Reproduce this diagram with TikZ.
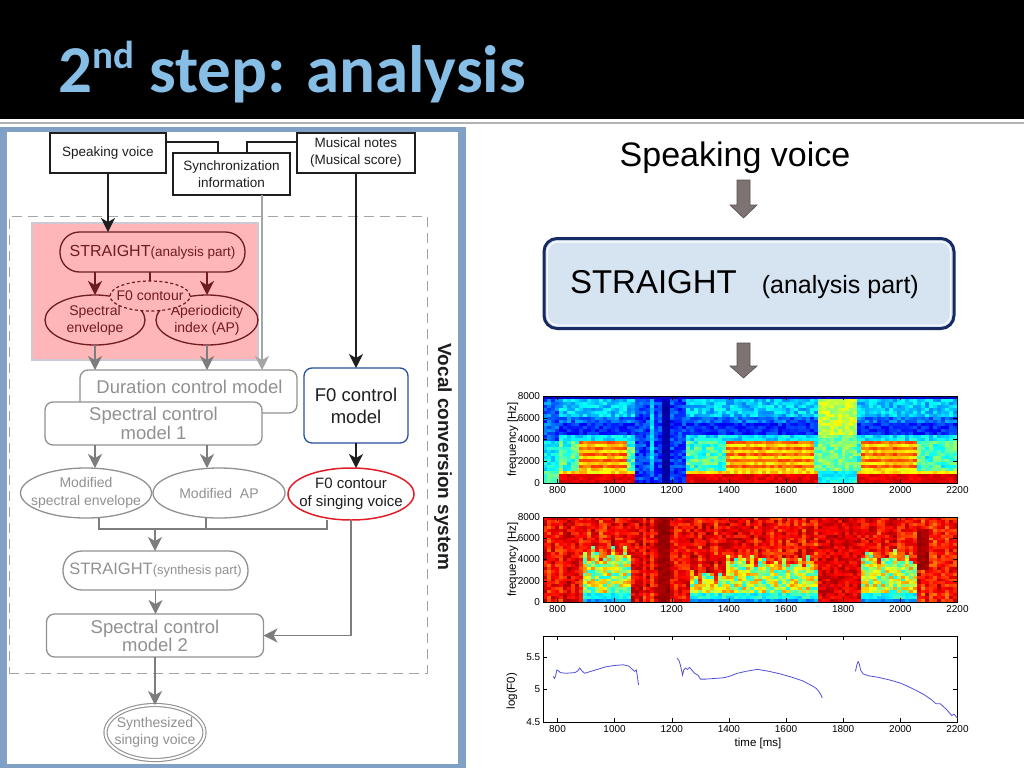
\documentclass[tikz,border=0pt]{standalone}
\usepackage{fontspec}
\setmainfont{Liberation Sans}
\newfontfamily\titlefont{Carlito}
\usetikzlibrary{shapes.geometric,arrows.meta,calc}
\definecolor{panelblue}{RGB}{128,160,198}
\definecolor{titleblue}{RGB}{135,190,230}
\definecolor{darkred}{RGB}{110,28,32}
\definecolor{pinkfill}{RGB}{255,182,184}
\definecolor{pinkedge}{RGB}{205,200,212}
\definecolor{mgray}{RGB}{145,145,145}
\definecolor{tgray}{RGB}{145,145,145}
\definecolor{agray}{RGB}{125,125,125}
\definecolor{dgray}{RGB}{165,165,165}
\definecolor{f0blue}{RGB}{40,80,160}
\definecolor{f0red}{RGB}{225,30,40}
\definecolor{navy}{RGB}{22,42,100}
\definecolor{boxblue}{RGB}{214,227,241}
\definecolor{barrow}{RGB}{125,115,115}
\definecolor{curveblue}{RGB}{80,80,215}
\definecolor{ink}{RGB}{30,30,30}

\newcommand\fs[2]{\fontsize{#1}{#2}\selectfont}

% jet colour map
\newcommand\jetcolor[1]{%
  \pgfmathsetmacro\jr{max(0,min(1,1.5-abs(4*#1-3)))}%
  \pgfmathsetmacro\jg{max(0,min(1,1.5-abs(4*#1-2)))}%
  \pgfmathsetmacro\jb{max(0,min(1,1.5-abs(4*#1-1)))}%
  \definecolor{cellc}{rgb}{\jr,\jg,\jb}%
}
% spectrogram (upper)
\newcommand\voiced[2]{%
  \ifdim\fq pt<700pt \pgfmathsetmacro\val{0.86+0.07*\rn}%
  \else\ifdim\fq pt<1100pt \pgfmathsetmacro\val{0.58+0.14*\rn}%
  \else\ifdim\fq pt<3850pt
     \ifdim\tm pt>#1pt \ifdim\tm pt<#2pt
        \ifodd\jrow\relax \pgfmathsetmacro\val{0.73+0.1*\rn}\else\pgfmathsetmacro\val{0.6+0.12*\rn}\fi
     \else \pgfmathsetmacro\val{0.34+0.2*\rn}\fi
     \else \pgfmathsetmacro\val{0.34+0.2*\rn}\fi
  \else\ifdim\fq pt<4400pt \pgfmathsetmacro\val{0.28+0.14*\rn}%
  \else\ifdim\fq pt<5400pt \pgfmathsetmacro\val{0.1+0.12*\rn}%
  \else\ifdim\fq pt<6200pt \pgfmathsetmacro\val{0.16+0.14*\rn}%
  \else \pgfmathsetmacro\val{0.25+0.15*\rn}%
  \fi\fi\fi\fi\fi\fi
}
\newcommand\unvoicedb{%
  \ifdim\tm pt>1165pt \ifdim\tm pt<1194pt \pgfmathsetmacro\val{0.02+0.04*\rn}\else\pgfmathsetmacro\val{0.1+0.16*\rn}\fi\else\pgfmathsetmacro\val{0.1+0.16*\rn}\fi}
\newcommand\unvoiced{%
  \ifdim\tm pt>1125pt \ifdim\tm pt<1141pt \ifdim\fq pt>1000pt \pgfmathsetmacro\val{0.3+0.08*\rn}\else\unvoicedb\fi\else\unvoicedb\fi\else\unvoicedb\fi}
\newcommand\fric{%
  \ifdim\fq pt<1000pt \pgfmathsetmacro\val{0.32+0.1*\rn}\else
  \ifdim\fq pt<4500pt \pgfmathsetmacro\val{0.4+0.16*\rn}\else\pgfmathsetmacro\val{0.5+0.14*\rn}\fi\fi}
\newcommand\specAval{%
  \pgfmathsetmacro\rn{rnd}%
  \def\val{0.2}%
  \ifdim\fq pt>7780pt \pgfmathsetmacro\val{0.05+0.05*\rn}%
  \else
   \ifdim\tm pt<800pt
     \ifdim\fq pt<1000pt \pgfmathsetmacro\val{0.4+0.1*\rn}\else
     \ifdim\fq pt<3900pt \pgfmathsetmacro\val{0.3+0.12*\rn}\else
     \pgfmathsetmacro\val{0.14+0.16*\rn}\fi\fi
   \else\ifdim\tm pt<1068pt \voiced{880}{1045}%
   \else\ifdim\tm pt<1255pt \unvoiced
   \else\ifdim\tm pt<1715pt \voiced{1390}{1700}%
   \else\ifdim\tm pt<1852pt \fric
   \else \voiced{1870}{2060}%
   \fi\fi\fi\fi\fi
  \fi
}
% aperiodicity map (lower)
\newcommand\lowband[1]{%
  \pgfmathsetmacro\thr{#1-700+1400*\cn}%
  \ifdim\fq pt<\thr pt \pgfmathsetmacro\val{0.38+0.36*\rn}\fi
  \ifdim\fq pt<900pt \pgfmathsetmacro\val{0.32+0.14*\rn}\fi
  \ifdim\fq pt<350pt \pgfmathsetmacro\val{0.22+0.1*\rn}\fi
}
\newcommand\specBval{%
  \pgfmathsetmacro\rn{rnd}%
  \pgfmathsetmacro\val{0.74+0.1*\cn+0.15*\rn}%
  \ifdim\tm pt>885pt \ifdim\tm pt<1055pt \lowband{4600}\fi\fi
  \ifdim\tm pt>1270pt \ifdim\tm pt<1390pt \lowband{2200}\fi\fi
  \ifdim\tm pt>1390pt \ifdim\tm pt<1710pt \lowband{3800}\fi\fi
  \ifdim\tm pt>1862pt \ifdim\tm pt<2060pt \lowband{4200}\fi\fi
  \ifdim\tm pt>1712pt \ifdim\tm pt<1860pt \pgfmathsetmacro\val{0.84+0.12*\rn}\fi\fi
  \ifdim\tm pt>1160pt \ifdim\tm pt<1192pt \pgfmathsetmacro\val{0.95+0.04*\rn}\fi\fi
  \ifdim\tm pt>2060pt \ifdim\tm pt<2100pt \ifdim\fq pt>3000pt \ifdim\fq pt<7000pt \pgfmathsetmacro\val{0.94+0.05*\rn}\fi\fi\fi\fi
}
% axes of a spectrogram: #1 top, #2 bottom, #3 name
\newcommand\specaxes[3]{%
  \draw[line width=0.6pt] (543,#1) rectangle (957,#2);
  \foreach \tk in {800,1000,...,2200}{
    \draw[line width=0.5pt] ({328.9+0.2857*\tk},#2) -- ++(0,-4) ({328.9+0.2857*\tk},#1) -- ++(0,4);
    \node[anchor=north, font=\fs{10}{12}] (#3x\tk) at ({328.9+0.2857*\tk},{#2+3.5}) {\tk};
  }
  \foreach \ff [count=\k from 0] in {0,2000,...,8000}{
    \pgfmathsetmacro\yy{#2-(#2-#1)*\k/4}
    \draw[line width=0.5pt] (543,\yy) -- ++(4,0) (957,\yy) -- ++(-4,0);
    \node[anchor=east, font=\fs{10}{12}] (#3y\k) at (540,\yy) {\ff};
  }
  \node[rotate=90, font=\fs{11.5}{13}] (#3lab) at (513,{(#1+#2)/2}) {frequency [Hz]};
}

\tikzset{
  every node/.style={inner sep=0pt, outer sep=0pt},
  rectbox/.style={draw=ink, line width=1.3pt, fill=white, align=center, text=ink, font=\fs{13.5}{17}},
  graybox/.style={draw=mgray, line width=1.3pt, rounded corners=8pt, fill=white, align=center, text=tgray, font=\fs{18.5}{17}},
  ell/.style={ellipse, inner xsep=-40pt, inner ysep=-12pt, align=center},
  grayell/.style={ell, draw=mgray, line width=1.3pt, fill=white, text=tgray, font=\fs{14}{18}},
  redell/.style={ell, draw=darkred, line width=1.3pt, fill=pinkfill, text=darkred, font=\fs{14}{17}},
  blk/.style={-{Stealth[length=14pt,width=14pt,inset=4pt]}, line width=1.4pt, draw=ink},
  gar/.style={-{Stealth[length=14pt,width=14pt,inset=4pt]}, line width=1.4pt, draw=agray},
  rar/.style={-{Stealth[length=14pt,width=14pt,inset=4pt]}, line width=1.4pt, draw=darkred},
  gline/.style={line width=1.4pt, draw=agray},
  barrowst/.style={fill=barrow, draw=barrow!70!black, line width=0.6pt},
}

\begin{document}
\begin{tikzpicture}[x=1pt,y=-1pt]
\useasboundingbox (0,0) rectangle (1024,768);
\fill[white] (0,0) rectangle (1024,768);
% header
\fill[black] (0,0) rectangle (1024,119);
\fill[black!30] (0,121.5) rectangle (1024,124);
\node[anchor=base west, text=titleblue, font=\titlefont\bfseries\fs{67}{70}] (title) at (58.5,92)
  {2\raisebox{24pt}{\fs{39}{40}nd} step: analysis};

% left panel
\fill[panelblue] (0,127) rectangle (466,768);
\fill[white] (7,132) rectangle (458,764);

\node[draw=dgray, dashed, dash pattern=on 10pt off 6pt, line width=1pt,
      minimum width=418, minimum height=457] (vcs) at (218,444.5) {};
\node[fill=pinkfill, draw=pinkedge, line width=2.5pt, minimum width=226, minimum height=137] (pink) at (145,291.5) {};

% input boxes
\node[rectbox, minimum width=116, minimum height=40] (sv) at (108,153) {Speaking voice};
\node[rectbox, minimum width=117, minimum height=42] (sync) at (231.5,174) {Synchronization\\information};
\node[rectbox, minimum width=118, minimum height=40] (mus) at (356,153) {Musical notes\\(Musical score)};
\coordinate (j1) at (218,142);
\coordinate (j2) at (247,142);
\draw[line width=1.3pt, draw=ink] (sv.east |- j1) -| (sync.north -| j1);
\draw[line width=1.3pt, draw=ink] (mus.west |- j2) -| (sync.north -| j2);

% analysis part
\node[draw=darkred, line width=1.3pt, fill=pinkfill, rounded corners=19.5pt, minimum width=185, minimum height=40,
      text=darkred, font=\fs{16}{18}] (stA) at (152.5,252) {STRAIGHT{\fs{13.5}{15}(analysis part)}};
\node[redell, minimum width=100, minimum height=50] (spec) at (95,320) {Spectral\\envelope};
\node[redell, minimum width=102, minimum height=50] (ap) at (207,320) {Aperiodicity\\index (AP)};
\node[ell, draw=darkred, dashed, dash pattern=on 3pt off 2.5pt, line width=1.2pt, fill=pinkfill,
      minimum width=80, minimum height=30, text=darkred, font=\fs{14}{16}] (f0c) at (150,296) {F0 contour};
\draw[rar] (stA.south -| spec.north) -- (spec.north);
\draw[rar] (stA.south -| ap.north) -- (ap.north);
\draw[line width=1.2pt, draw=darkred] (stA.south -| f0c.north) -- (f0c.north);
\draw[blk] (sv.south) -- (sv.south |- stA.north);

% control models
\node[graybox, minimum width=217, minimum height=43] (dur) at (188.5,391.5) {};
\node[text=tgray, font=\fs{18.5}{20}] (durt) at (189.5,387) {Duration control model};
\node[graybox, minimum width=217, minimum height=43] (scm1) at (153.5,423.5) {Spectral control\\model 1};
\node[draw=f0blue, line width=1.3pt, rounded corners=8pt, fill=white, minimum width=104, minimum height=75,
      align=center, text=ink, font=\fs{18.5}{22}] (f0m) at (356,405.5) {F0 control\\model};
\coordinate (sx) at (262,195);
\draw[gar] (spec.south) -- (spec.south |- dur.north);
\draw[gar] (ap.south) -- (ap.south |- dur.north);
\draw[gar, draw=dgray] (sync.south -| sx) -- (sx |- dur.north);
\draw[blk] (mus.south) -- (f0m.north);

% modified parameters
\node[grayell, minimum width=131, minimum height=50] (mse) at (86,493) {Modified\\spectral envelope};
\node[grayell, minimum width=132, minimum height=50] (map) at (219,493) {Modified\ \ AP};
\node[ell, draw=f0red, line width=1.5pt, fill=white, minimum width=126, minimum height=52,
      text=ink, font=\fs{15}{18}] (f0s) at (351,494) {F0 contour\\of singing voice};
\draw[gar] (scm1.south -| spec.south) -- (spec.south |- mse.north);
\draw[gar] (scm1.south -| ap.south) -- (ap.south |- map.north);
\draw[blk] (f0m.south) -- (f0m.south |- f0s.north);

% synthesis
\coordinate (m1) at (99,529);
\coordinate (m2) at (206,529);
\coordinate (m3) at (327,529);
\coordinate (mc) at (155,529);
\node[draw=mgray, line width=1.3pt, fill=white, rounded corners=19pt, minimum width=185, minimum height=39,
      text=tgray, font=\fs{16.5}{18}] (stS) at (155.5,570.5) {STRAIGHT{\fs{13}{15}(synthesis part)}};
\node[graybox, minimum width=217, minimum height=43] (scm2) at (155,635.5) {Spectral control\\model 2};
\node[ell, draw=mgray, double=white, double distance=2pt, line width=1.1pt, fill=white,
      minimum width=99, minimum height=55, text=tgray, font=\fs{14}{17}] (syn) at (155,732.5)
      {Synthesized\\singing voice};
\draw[gline] (mse.south -| m1) -- (m1) -- (m3) -- (f0s.south -| m3);
\draw[gline] (map.south -| m2) -- (m2);
\draw[gar] (mc) -- (stS.north -| mc);
\draw[gar] (stS.south) -- (stS.south |- scm2.north);
\draw[gar] (f0s.south) |- (scm2.east);
\draw[gar] (scm2.south) -- (syn.north);

\node[rotate=-90, font=\bfseries\fs{19}{21}, text=ink] (vcsl) at (443,457) {Vocal conversion system};

% right side: flow
\node[anchor=base, font=\fs{34}{36}] (sv2) at (735,166) {Speaking voice};
\filldraw[barrowst] (737,180) -- (750,180) -- (750,205) -- (757,205) -- (743.5,218) -- (730,205) -- (737,205) -- cycle;
\node[draw=navy, line width=3pt, fill=boxblue, rounded corners=13pt, minimum width=410, minimum height=90] (stR) at (749,283.5) {};
\draw[white, line width=1.2pt, rounded corners=10pt] ($(stR.north west)+(3.4,3.4)$) rectangle ($(stR.south east)+(-3.4,-3.4)$);
\node[anchor=base west, font=\fs{33}{36}] (stRt) at (570,293) {STRAIGHT\hspace{25pt}{\fs{25}{27}(analysis part)}};
\filldraw[barrowst] (737,343) -- (750,343) -- (750,366) -- (757,366) -- (743.5,378) -- (730,366) -- (737,366) -- cycle;

% spectrogram (upper)
\pgfmathsetseed{4711}
\begin{scope}
\clip (543,396) rectangle (957,483);
\foreach \i in {0,...,103}{
  \pgfmathsetmacro\tm{750+(\i+0.5)*13.94}
  \foreach \jrow in {0,...,28}{
    \pgfmathsetmacro\fq{8000-(\jrow+0.5)*275.86}
    \specAval
    \jetcolor{\val}
    \fill[cellc] ({543+\i*3.98},{396+\jrow*3}) rectangle ++(4.3,3.3);
  }
}
\end{scope}
\specaxes{396}{483}{sa}

% aperiodicity map (lower)
\begin{scope}
\clip (543,517) rectangle (957,602);
\foreach \i in {0,...,103}{
  \pgfmathsetmacro\tm{750+(\i+0.5)*13.94}
  \pgfmathsetmacro\cn{rnd}
  \foreach \jrow in {0,...,28}{
    \pgfmathsetmacro\fq{8000-(\jrow+0.5)*275.86}
    \specBval
    \jetcolor{\val}
    \fill[cellc] ({543+\i*3.98},{517+\jrow*2.931}) rectangle ++(4.3,3.2);
  }
}
\end{scope}
\specaxes{517}{602}{sb}

% F0 plot
\begin{scope}[shift={(328.9,1014.5)}, x=0.2857pt, y=65pt]
  \draw[line width=0.6pt] (750,4.5) rectangle (2200,5.823);
  \foreach \tk in {800,1000,...,2200}{
    \draw[line width=0.5pt] (\tk,4.5) -- ++(0,0.06) (\tk,5.823) -- ++(0,-0.06);
    \node[anchor=north, font=\fs{10}{12}] (fx\tk) at (\tk,4.5) [yshift=-3.5pt] {\tk};
  }
  \foreach \vv in {4.5,5,5.5}{
    \draw[line width=0.5pt] (750,\vv) -- ++(14,0) (2200,\vv) -- ++(-14,0);
    \node[anchor=east, font=\fs{10}{12}] (fy\vv) at (750,\vv) [xshift=-3pt] {\vv};
  }
  \draw[curveblue, line width=0.8pt] (785,5.2) -- (790,5.17) -- (794,5.22) -- (798,5.3) -- (803,5.29) -- (810,5.26) -- (830,5.25) -- (860,5.26) -- (870,5.28) -- (878,5.33) -- (885,5.29) -- (895,5.25) -- (910,5.27) -- (940,5.31) -- (970,5.35) -- (1000,5.37) -- (1030,5.38) -- (1050,5.36) -- (1062,5.31) -- (1070,5.28) -- (1076,5.3) -- (1079,5.22) -- (1082,5.12) -- (1084,5.07);
  \draw[curveblue, line width=0.8pt] (1218,5.48) -- (1225,5.45) -- (1230,5.38) -- (1234,5.3) -- (1238,5.22) -- (1242,5.3) -- (1248,5.33) -- (1255,5.31) -- (1262,5.34) -- (1270,5.3) -- (1280,5.25) -- (1292,5.22) -- (1300,5.16) -- (1320,5.16) -- (1350,5.17) -- (1380,5.18) -- (1400,5.2) -- (1430,5.25) -- (1460,5.28) -- (1500,5.31) -- (1540,5.28) -- (1580,5.24) -- (1620,5.19) -- (1660,5.13) -- (1690,5.06) -- (1705,5.02) -- (1715,4.97) -- (1722,4.92) -- (1727,4.87);
  \draw[curveblue, line width=0.8pt] (1843,5.28) -- (1848,5.38) -- (1852,5.43) -- (1856,5.4) -- (1861,5.3) -- (1870,5.24) -- (1890,5.21) -- (1920,5.19) -- (1960,5.15) -- (2000,5.1) -- (2040,5.02) -- (2080,4.93) -- (2110,4.84) -- (2125,4.78) -- (2140,4.78) -- (2160,4.7) -- (2180,4.6) -- (2188,4.62) -- (2192,4.6) -- (2200,4.56);
\end{scope}
\node[rotate=90, font=\fs{11.5}{13}] (flab) at (512,691) {log(F0)};
\node[font=\fs{11.5}{13}] (tlab) at (758,744) {time [ms]};
\end{tikzpicture}
\end{document}
